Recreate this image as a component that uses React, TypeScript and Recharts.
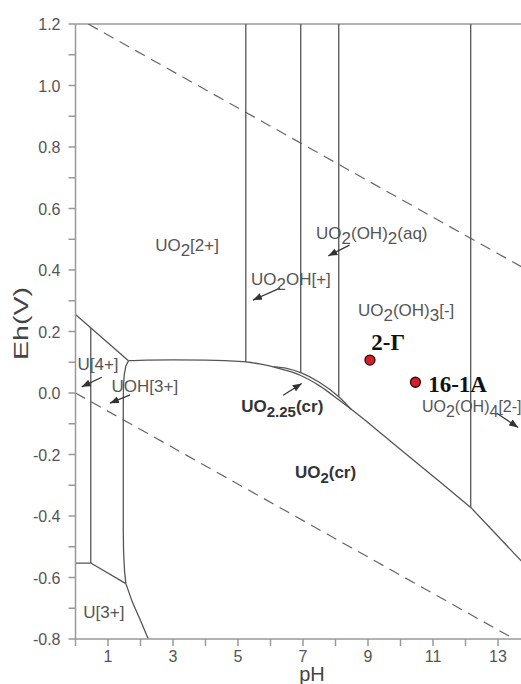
import React from 'react';
import { ComposedChart, Line, Scatter, XAxis, YAxis, ReferenceLine, ReferenceDot } from 'recharts';

// pH ticks and Eh ticks (labels on odd pH and every 0.2 V)
const xTicks = [0, 1, 2, 3, 4, 5, 6, 7, 8, 9, 10, 11, 12, 13, 14];
const yTicks = [-0.8, -0.7, -0.6, -0.5, -0.4, -0.3, -0.2, -0.1, 0, 0.1, 0.2, 0.3, 0.4, 0.5, 0.6, 0.7, 0.8, 0.9, 1.0, 1.1, 1.2];

// water stability limits (dashed)
const waterUpper = [{ x: 0.39, y: 1.2 }, { x: 14, y: 0.394 }];
const waterLower = [{ x: 0, y: 0 }, { x: 13.5, y: -0.8 }];

// predominance boundaries
const u4Diagonal = [{ x: 0, y: 0.255 }, { x: 1.63, y: 0.105 }];
const uo2Top = [
  { x: 1.63, y: 0.105 }, { x: 2.2, y: 0.107 }, { x: 3, y: 0.108 }, { x: 4, y: 0.107 },
  { x: 4.6, y: 0.105 }, { x: 5.24, y: 0.101 }, { x: 5.7, y: 0.094 }, { x: 6.2, y: 0.082 },
  { x: 6.5, y: 0.073 }, { x: 6.93, y: 0.057 }, { x: 7.5, y: 0.024 }, { x: 8.1, y: -0.022 },
  { x: 8.75, y: -0.075 }, { x: 9.5, y: -0.14 }, { x: 10.3, y: -0.21 }, { x: 11.2, y: -0.288 },
  { x: 12.16, y: -0.372 },
];
const uo2TopHigh = [{ x: 12.16, y: -0.372 }, { x: 13, y: -0.466 }, { x: 14, y: -0.578 }];
const uo225Lens = [
  { x: 6.1, y: 0.086 }, { x: 6.5, y: 0.08 }, { x: 6.93, y: 0.066 }, { x: 7.5, y: 0.035 },
  { x: 8.1, y: -0.012 }, { x: 8.5, y: -0.055 },
];
const vLine524 = [{ x: 5.24, y: 1.2 }, { x: 5.24, y: 0.101 }];
const vLine693 = [{ x: 6.93, y: 1.2 }, { x: 6.93, y: 0.066 }];
const vLine810 = [{ x: 8.1, y: 1.2 }, { x: 8.1, y: -0.012 }];
const vLine1216 = [{ x: 12.16, y: 1.2 }, { x: 12.16, y: -0.372 }];
const u4Vertical = [{ x: 0.47, y: 0.212 }, { x: 0.47, y: -0.553 }];
const u3Horizontal = [{ x: 0, y: -0.553 }, { x: 0.47, y: -0.553 }];
const u3Diagonal = [{ x: 0.47, y: -0.553 }, { x: 1.55, y: -0.62 }];
const uohCurve = [
  { x: 1.63, y: 0.105 }, { x: 1.55, y: 0.088 }, { x: 1.5, y: 0.06 }, { x: 1.475, y: 0.02 },
  { x: 1.47, y: -0.05 }, { x: 1.47, y: -0.45 }, { x: 1.48, y: -0.52 }, { x: 1.51, y: -0.58 },
  { x: 1.55, y: -0.62 }, { x: 1.75, y: -0.68 }, { x: 2.0, y: -0.74 }, { x: 2.24, y: -0.8 },
];

const smoothBoundaries = [uo2Top, uo225Lens];
const boundaries = [uo2TopHigh, u4Diagonal, vLine524, vLine693, vLine810, vLine1216, u4Vertical, u3Horizontal, u3Diagonal, uohCurve];

// label arrows
const arrows = [
  [{ x: 8.43, y: 0.481 }, { x: 7.78, y: 0.446 }],
  [{ x: 6.29, y: 0.341 }, { x: 5.46, y: 0.302 }],
  [{ x: 6.39, y: -0.007 }, { x: 6.96, y: 0.031 }],
  [{ x: 0.81, y: 0.051 }, { x: 0.19, y: 0.02 }],
  [{ x: 1.68, y: -0.006 }, { x: 1.06, y: -0.033 }],
  [{ x: 12.96, y: -0.066 }, { x: 13.62, y: -0.112 }],
];

// sample points
const samples = [{ x: 9.06, y: 0.107 }, { x: 10.46, y: 0.035 }];
const sampleNames = ['2-Г', '16-1A'];
const sampleLabelAt = [{ x: 9.1, y: 0.14 }, { x: 10.85, y: 0.004 }];

// species names ('_' marks a subscript)
const species = [
  { x: 2.45, y: 0.463, parts: ['UO', '_2', '[2+]'] },
  { x: 7.4, y: 0.501, parts: ['UO', '_2', '(OH)', '_2', '(aq)'] },
  { x: 5.4, y: 0.351, parts: ['UO', '_2', 'OH[+]'] },
  { x: 8.69, y: 0.249, parts: ['UO', '_2', '(OH)', '_3', '[-]'] },
  { x: 10.66, y: -0.062, parts: ['UO', '_2', '(OH)', '_4', '[2-]'], size: 16 },
  { x: 0.06, y: 0.075, parts: ['U[4+]'] },
  { x: 1.11, y: 0.004, parts: ['UOH[3+]'] },
  { x: 0.24, y: -0.733, parts: ['U[3+]'] },
  { x: 5.1, y: -0.061, parts: ['UO', '_2.25', '(cr)'], bold: true },
  { x: 6.75, y: -0.277, parts: ['UO', '_2', '(cr)'], bold: true },
];

const YTick = ({ x, y, payload }: any) => {
  const v = payload.value;
  if (Math.abs(Math.round(v * 10)) % 2 !== 0) return <g />;
  return (
    <text x={x} y={y} dy={6} textAnchor="end" fontSize={16} fill="#555">
      {v.toFixed(1)}
    </text>
  );
};

const XTick = ({ x, y, payload }: any) => {
  const v = payload.value;
  if (v % 2 !== 1) return <g />;
  return (
    <text x={x} y={y} dy={12} textAnchor="middle" fontSize={16} fill="#555">
      {v}
    </text>
  );
};

const speciesShape = (s: any) => (props: any) => {
  let shift = 0;
  const fs = s.size || 17;
  return (
    <text x={props.cx} y={props.cy} fontSize={fs} fill={s.bold ? '#333' : '#555'} fontWeight={s.bold ? 'bold' : 'normal'}>
      {s.parts.map((p: string, i: number) => {
        const sub = p.startsWith('_');
        const dy = sub ? 5 - shift : -shift;
        shift = sub ? 5 : 0;
        return (
          <tspan key={i} dy={dy} fontSize={sub && s.bold ? fs - 2 : fs}>
            {sub ? p.slice(1) : p}
          </tspan>
        );
      })}
    </text>
  );
};

const sampleShape = (name: string) => (props: any) => (
  <text x={props.cx} y={props.cy} fontSize={23} fontWeight="bold" fill="#111" fontFamily="'Liberation Serif', 'Times New Roman', serif">
    {name}
  </text>
);

const RedDot = (props: any) => (
  <circle cx={props.cx} cy={props.cy} r={5} fill="#d2202c" stroke="#3a0505" strokeWidth={1.3} />
);

export default function App() {
  return (
    <div style={{ position: 'absolute', left: 0, top: 0, width: 521, height: 684, overflow: 'hidden', background: '#fff', fontFamily: "'Liberation Sans', Arial, sans-serif" }}>
      <svg width={0} height={0} style={{ position: 'absolute' }}>
        <defs>
          <marker id="arrowHead" viewBox="0 0 10 8" refX={10} refY={4} markerWidth={9} markerHeight={7.2} markerUnits="userSpaceOnUse" orient="auto">
            <path d="M0,0 L10,4 L0,8 z" fill="#333" />
          </marker>
        </defs>
      </svg>
      <ComposedChart width={540} height={684} margin={{ top: 24, right: 9.5, bottom: 15, left: 0 }}>
        <XAxis
          type="number"
          dataKey="x"
          domain={[0, 14]}
          ticks={xTicks}
          interval={0}
          allowDataOverflow
          height={30}
          stroke="#999"
          strokeWidth={1.5}
          tickSize={7}
          tickMargin={4}
          tickLine={{ stroke: '#999' }}
          tick={<XTick />}
        />
        <YAxis
          type="number"
          dataKey="y"
          domain={[-0.8, 1.2]}
          ticks={yTicks}
          interval={0}
          allowDataOverflow
          width={75.5}
          stroke="#999"
          strokeWidth={1.5}
          tickSize={7}
          tickMargin={8}
          tickLine={{ stroke: '#999' }}
          tick={<YTick />}
        />
        <ReferenceLine y={1.2} stroke="#999" strokeWidth={1.5} />
        <Line data={waterUpper} dataKey="y" type="linear" stroke="#666" strokeWidth={1.2} strokeDasharray="11 7" dot={false} activeDot={false} isAnimationActive={false} />
        <Line data={waterLower} dataKey="y" type="linear" stroke="#666" strokeWidth={1.2} strokeDasharray="11 7" dot={false} activeDot={false} isAnimationActive={false} />
        {smoothBoundaries.map((b, i) => (
          <Line key={'c' + i} data={b} dataKey="y" type="monotone" stroke="#555" strokeWidth={1.3} dot={false} activeDot={false} isAnimationActive={false} />
        ))}
        {boundaries.map((b, i) => (
          <Line key={'b' + i} data={b} dataKey="y" type="linear" stroke="#555" strokeWidth={1.3} dot={false} activeDot={false} isAnimationActive={false} />
        ))}
        {arrows.map((a, i) => (
          <Line key={'a' + i} data={a} dataKey="y" type="linear" stroke="#333" strokeWidth={1.2} markerEnd="url(#arrowHead)" dot={false} activeDot={false} isAnimationActive={false} />
        ))}
        {species.map((s, i) => (
          <ReferenceDot key={'s' + i} x={s.x} y={s.y} r={0} shape={speciesShape(s)} />
        ))}
        {sampleLabelAt.map((p, i) => (
          <ReferenceDot key={'n' + i} x={p.x} y={p.y} r={0} shape={sampleShape(sampleNames[i])} />
        ))}
        <Scatter data={samples} dataKey="y" shape={<RedDot />} isAnimationActive={false} />
      </ComposedChart>
      <svg width={521} height={684} style={{ position: 'absolute', left: 0, top: 0, pointerEvents: 'none' }}>
        <text transform="translate(28.3,323.5) rotate(-90)" textAnchor="middle" fontSize={21} fill="#444" textLength={73} lengthAdjust="spacingAndGlyphs">
          Eh(V)
        </text>
        <text x={312} y={680.5} textAnchor="middle" fontSize={20} fill="#444">
          pH
        </text>
      </svg>
    </div>
  );
}
